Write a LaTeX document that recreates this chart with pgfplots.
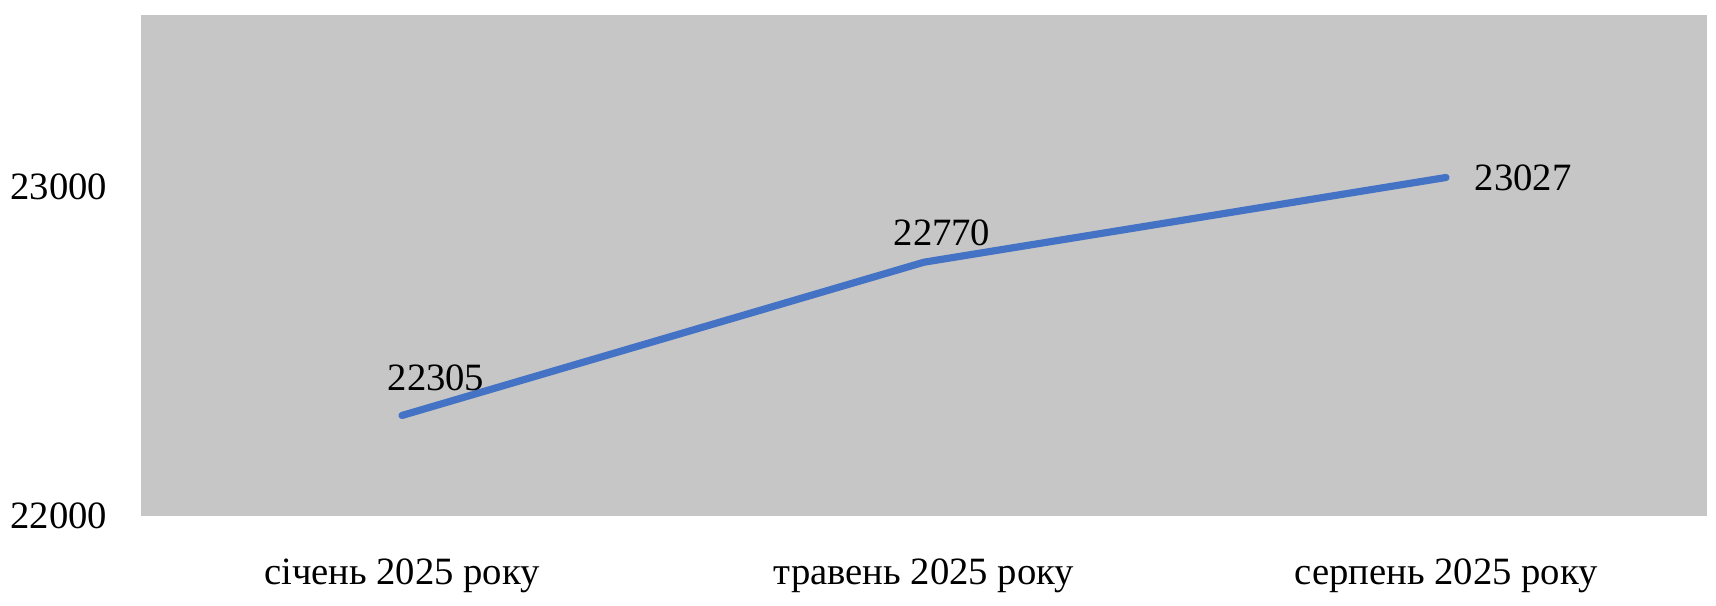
\documentclass[border=0pt]{standalone}
\usepackage{fontspec}
\setmainfont{Liberation Serif}
\usepackage{pgfplots}
\pgfplotsset{compat=1.18}
\definecolor{bgray}{RGB}{198,198,198}
\definecolor{lblue}{RGB}{68,114,196}
\begin{document}
\fontsize{9.7}{11}\selectfont
\begin{tikzpicture}
\begin{axis}[
  scale only axis,
  width=391.5bp, height=125.25bp,
  xmin=-0.5, xmax=2.5,
  ymin=22000, ymax=23520,
  xtick={0,1,2},
  xticklabels={січень 2025 року, травень 2025 року, серпень 2025 року},
  ytick={22000,23000},
  scaled y ticks=false,
  /pgf/number format/assume math mode=true,
  yticklabel style={/pgf/number format/fixed, /pgf/number format/1000 sep={}},
  major tick length=0pt,
  axis line style={draw=none},
  axis background/.style={fill=bgray},
  tick label style={font=\fontsize{9.7}{11}\selectfont},
  xticklabel style={anchor=base, yshift=-17bp},
  yticklabel style={anchor=east, inner sep=0pt, xshift=-8.25bp},
  clip=false,
]
\addplot[lblue, line width=1.8pt, line cap=round, line join=round] coordinates {(0,22305) (1,22770) (2,23027)};
\addplot[draw=none, nodes near coords, point meta=explicit symbolic,
  every node near coord/.style={anchor=south, inner sep=0pt, xshift=8.5bp, yshift=6bp, font=\fontsize{9.7}{11}\selectfont}]
  coordinates {(0,22305) [22305]};
\addplot[draw=none, nodes near coords, point meta=explicit symbolic,
  every node near coord/.style={anchor=south, inner sep=0pt, xshift=4.5bp, yshift=4bp, font=\fontsize{9.7}{11}\selectfont}]
  coordinates {(1,22770) [22770]};
\addplot[draw=none, nodes near coords, point meta=explicit symbolic,
  every node near coord/.style={anchor=west, inner sep=0pt, xshift=7bp, yshift=0bp, font=\fontsize{9.7}{11}\selectfont}]
  coordinates {(2,23027) [23027]};
\end{axis}
\pgfresetboundingbox
\path ([shift={(-35.25bp,-22.5bp)}]current axis.south west) rectangle ([shift={(2.25bp,3.75bp)}]current axis.north east);
\end{tikzpicture}
\end{document}
